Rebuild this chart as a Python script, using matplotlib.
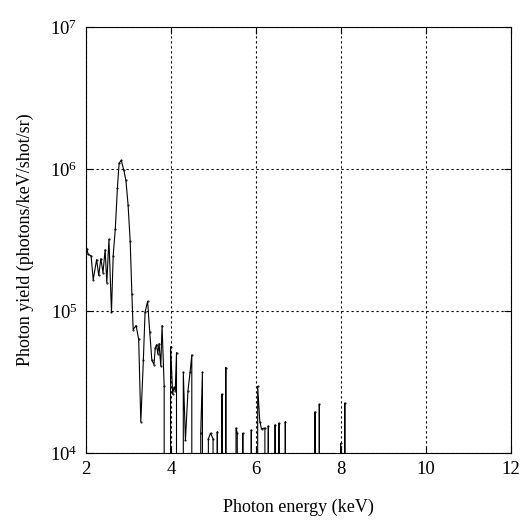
import matplotlib
matplotlib.use("Agg")
import matplotlib.pyplot as plt

# spectrum (0 = no counts, falls off the log axis)
energy = [2.02, 2.05, 2.12, 2.17, 2.25, 2.30, 2.35, 2.40, 2.45, 2.49,
          2.54, 2.60, 2.64, 2.69, 2.74, 2.78, 2.83, 2.89, 2.94, 2.99,
          3.04, 3.08, 3.11, 3.18, 3.24, 3.29, 3.35, 3.39, 3.45, 3.50,
          3.55, 3.60, 3.63, 3.66, 3.69, 3.72, 3.76, 3.79, 3.84, 3.88,
          3.96, 3.99, 4.04, 4.07, 4.10, 4.13, 4.16, 4.24, 4.29, 4.34,
          4.40, 4.45, 4.49, 4.52, 4.67, 4.70, 4.74, 4.77, 4.86, 4.88,
          4.93, 4.99, 5.01, 5.06, 5.09, 5.11, 5.17, 5.20, 5.22, 5.27,
          5.29, 5.31, 5.51, 5.53, 5.56, 5.58, 5.67, 5.69, 5.71, 5.87,
          5.89, 5.91, 6.02, 6.04, 6.09, 6.13, 6.21, 6.23, 6.27, 6.29,
          6.31, 6.43, 6.45, 6.47, 6.52, 6.54, 6.56, 6.67, 6.69, 6.71,
          7.37, 7.39, 7.41, 7.47, 7.49, 7.51, 7.97, 7.99, 8.01, 8.07,
          8.09, 8.11]
yield_ = [2.75e5, 2.5e5, 2.45e5, 1.66e5, 2.3e5, 1.78e5, 2.34e5, 1.86e5, 2.7e5, 1.58e5,
          3.2e5, 9.8e4, 2.45e5, 3.8e5, 7.4e5, 1.1e6, 1.15e6, 9.8e5, 8.3e5, 5.6e5,
          3.1e5, 1.32e5, 7.4e4, 7.9e4, 6.3e4, 1.66e4, 4.5e4, 9.8e4, 1.17e5, 7.1e4,
          4.5e4, 4.2e4, 5.5e4, 5.8e4, 5.0e4, 5.9e4, 4.1e4, 7.9e4, 2.95e4, 0,
          0, 5.6e4, 2.6e4, 2.9e4, 2.75e4, 5.1e4, 0, 0, 3.7e4, 1.23e4,
          2.75e4, 3.7e4, 4.9e4, 0, 0, 1.38e4, 3.7e4, 0, 0, 1.26e4,
          1.38e4, 1.26e4, 0, 0, 1.41e4, 0, 0, 2.6e4, 0, 0,
          4.0e4, 0, 0, 1.5e4, 1.38e4, 0, 0, 1.38e4, 0, 0,
          1.45e4, 0, 0, 2.95e4, 1.66e4, 1.48e4, 1.5e4, 0, 0, 1.55e4,
          0, 0, 1.58e4, 0, 0, 1.62e4, 0, 0, 1.66e4, 0,
          0, 1.95e4, 0, 0, 2.2e4, 0, 0, 1.17e4, 0, 0,
          2.25e4, 0]

xticks = [2, 4, 6, 8, 10, 12]
yticks = [1e4, 1e5, 1e6, 1e7]
yticklabels = ["$10^4$", "$10^5$", "$10^6$", "$10^7$"]

plt.rcParams["font.family"] = "Liberation Serif"
plt.rcParams["mathtext.fontset"] = "custom"
plt.rcParams["mathtext.rm"] = "Liberation Serif"
plt.rcParams["mathtext.it"] = "Liberation Serif"

fig = plt.figure(figsize=(5.23, 5.27), dpi=100)
ax = fig.add_axes([0.1644, 0.1404, 0.8126, 0.8084])

ax.set_yscale("log", nonpositive="clip")
ax.plot(energy, yield_, color="black", lw=0.8, marker=".", ms=1)

ax.set_xlim(2, 12)
ax.set_ylim(1e4, 1e7)
ax.set_xticks(xticks)
ax.set_yticks(yticks)
ax.set_yticklabels(yticklabels)
ax.minorticks_off()
ax.tick_params(direction="in", top=True, right=True, length=5,
               labelsize=13.5, pad=6)
ax.grid(True, color="black", ls=(0, (2, 2.5)), lw=0.8)

ax.set_xlabel("Photon energy (keV)", fontsize=13, labelpad=15)
ax.set_ylabel("Photon yield (photons/keV/shot/sr)", fontsize=13, labelpad=12)

fig.savefig("out.png", dpi=100)
